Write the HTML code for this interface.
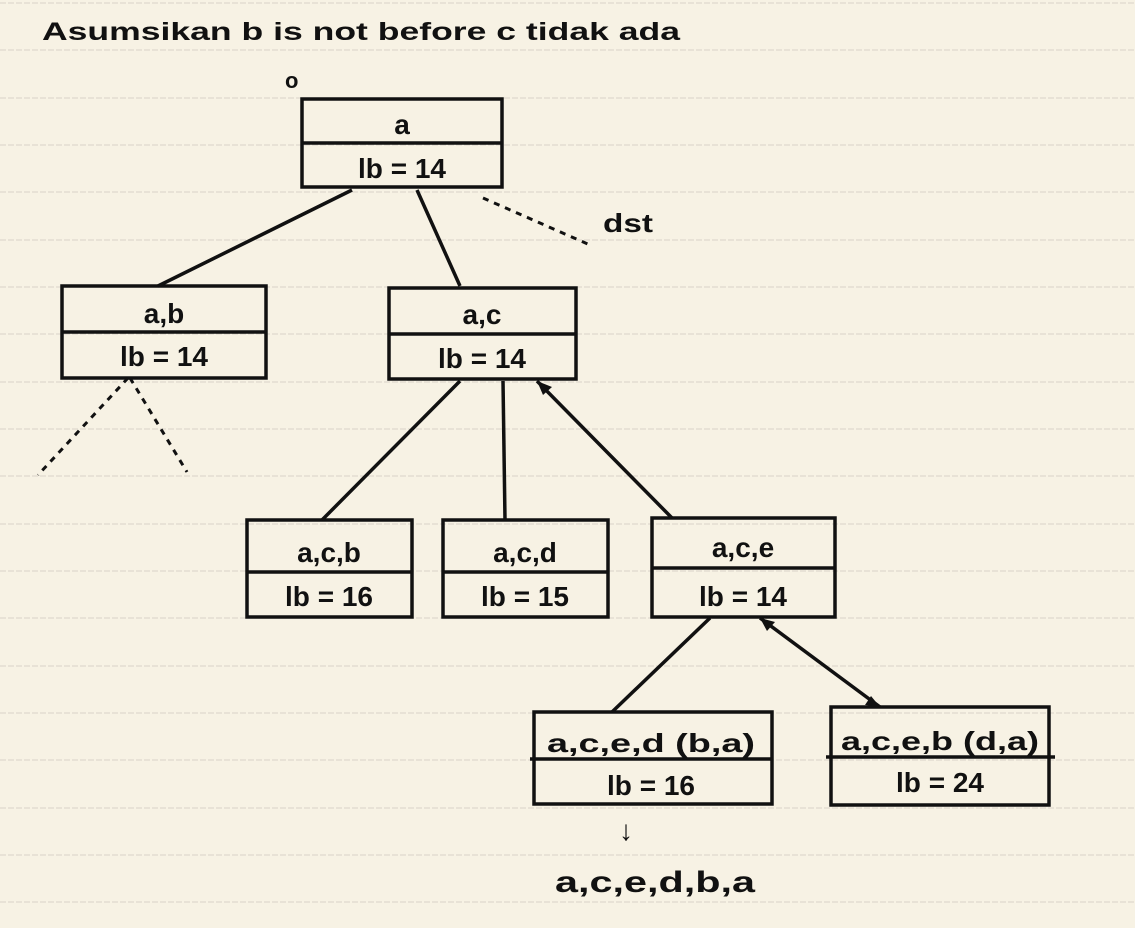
<!DOCTYPE html>
<html><head><meta charset="utf-8"><style>
html,body{margin:0;padding:0;background:#f7f2e4;}
svg{display:block}
text{font-family:"Liberation Sans",sans-serif;font-weight:bold;fill:#111;}
</style></head><body>
<svg width="1135" height="928" viewBox="0 0 1135 928" xmlns="http://www.w3.org/2000/svg">
<rect width="1135" height="928" fill="#f7f2e4"/>
<g stroke="#d8d3c8" stroke-width="1" stroke-dasharray="6 2">
<line x1="0" y1="3" x2="1135" y2="3"/><line x1="0" y1="50" x2="1135" y2="50"/>
<line x1="0" y1="98" x2="1135" y2="98"/><line x1="0" y1="145" x2="1135" y2="145"/>
<line x1="0" y1="192" x2="1135" y2="192"/><line x1="0" y1="240" x2="1135" y2="240"/>
<line x1="0" y1="287" x2="1135" y2="287"/><line x1="0" y1="334" x2="1135" y2="334"/>
<line x1="0" y1="382" x2="1135" y2="382"/><line x1="0" y1="429" x2="1135" y2="429"/>
<line x1="0" y1="476" x2="1135" y2="476"/><line x1="0" y1="524" x2="1135" y2="524"/>
<line x1="0" y1="571" x2="1135" y2="571"/><line x1="0" y1="618" x2="1135" y2="618"/>
<line x1="0" y1="666" x2="1135" y2="666"/><line x1="0" y1="713" x2="1135" y2="713"/>
<line x1="0" y1="760" x2="1135" y2="760"/><line x1="0" y1="808" x2="1135" y2="808"/>
<line x1="0" y1="855" x2="1135" y2="855"/><line x1="0" y1="902" x2="1135" y2="902"/>
</g>
<text x="42" y="40" font-size="25" textLength="638" lengthAdjust="spacingAndGlyphs">Asumsikan b is not before c tidak ada</text>
<text x="285" y="88" font-size="22">o</text>
<g fill="none" stroke="#111" stroke-width="3.5">
<rect x="302" y="99" width="200" height="88"/><line x1="302" y1="143" x2="502" y2="143"/>
<rect x="62" y="286" width="204" height="92"/><line x1="62" y1="332" x2="266" y2="332"/>
<rect x="389" y="288" width="187" height="91"/><line x1="389" y1="334" x2="576" y2="334"/>
<rect x="247" y="520" width="165" height="97"/><line x1="247" y1="572" x2="412" y2="572"/>
<rect x="443" y="520" width="165" height="97"/><line x1="443" y1="572" x2="608" y2="572"/>
<rect x="652" y="518" width="183" height="99"/><line x1="652" y1="568" x2="835" y2="568"/>
<rect x="534" y="712" width="238" height="92"/><line x1="530" y1="759" x2="772" y2="759"/>
<rect x="831" y="707" width="218" height="98"/><line x1="826" y1="757" x2="1055" y2="757"/>
<line x1="352" y1="190" x2="158" y2="286"/>
<line x1="417" y1="190" x2="460" y2="286"/>
<line x1="460" y1="381" x2="322" y2="520"/>
<line x1="503" y1="381" x2="505" y2="520"/>
<line x1="537" y1="381" x2="672" y2="518"/>
<line x1="710" y1="618" x2="612" y2="712"/>
<line x1="760" y1="618" x2="880" y2="707"/>
</g>
<g fill="none" stroke="#111" stroke-width="3" stroke-dasharray="6 6">
<line x1="483" y1="198" x2="590" y2="245"/>
<line x1="128" y1="378" x2="38" y2="475"/>
<line x1="130" y1="378" x2="187" y2="472"/>
</g>
<g fill="#111">
<polygon points="537,381 552,387 543,395"/>
<polygon points="760,618 775,622 767,631"/>
<polygon points="880,707 865,705 871,696"/>
</g>
<text x="603" y="232" font-size="26" textLength="50" lengthAdjust="spacingAndGlyphs">dst</text>
<g font-size="28" text-anchor="middle">
<text x="402" y="134">a</text><text x="402" y="178">lb = 14</text>
<text x="164" y="323">a,b</text><text x="164" y="366">lb = 14</text>
<text x="482" y="324">a,c</text><text x="482" y="368">lb = 14</text>
<text x="329" y="562">a,c,b</text><text x="329" y="606">lb = 16</text>
<text x="525" y="562">a,c,d</text><text x="525" y="606">lb = 15</text>
<text x="743" y="557">a,c,e</text><text x="743" y="606">lb = 14</text>
<text x="651" y="752" font-size="26" textLength="208" lengthAdjust="spacingAndGlyphs">a,c,e,d (b,a)</text><text x="651" y="795">lb = 16</text>
<text x="940" y="750" font-size="26" textLength="198" lengthAdjust="spacingAndGlyphs">a,c,e,b (d,a)</text><text x="940" y="792">lb = 24</text>
<text x="626" y="840">↓</text>
<text x="655" y="892" font-size="30" textLength="200" lengthAdjust="spacingAndGlyphs">a,c,e,d,b,a</text>
</g>
</svg>
</body></html>
